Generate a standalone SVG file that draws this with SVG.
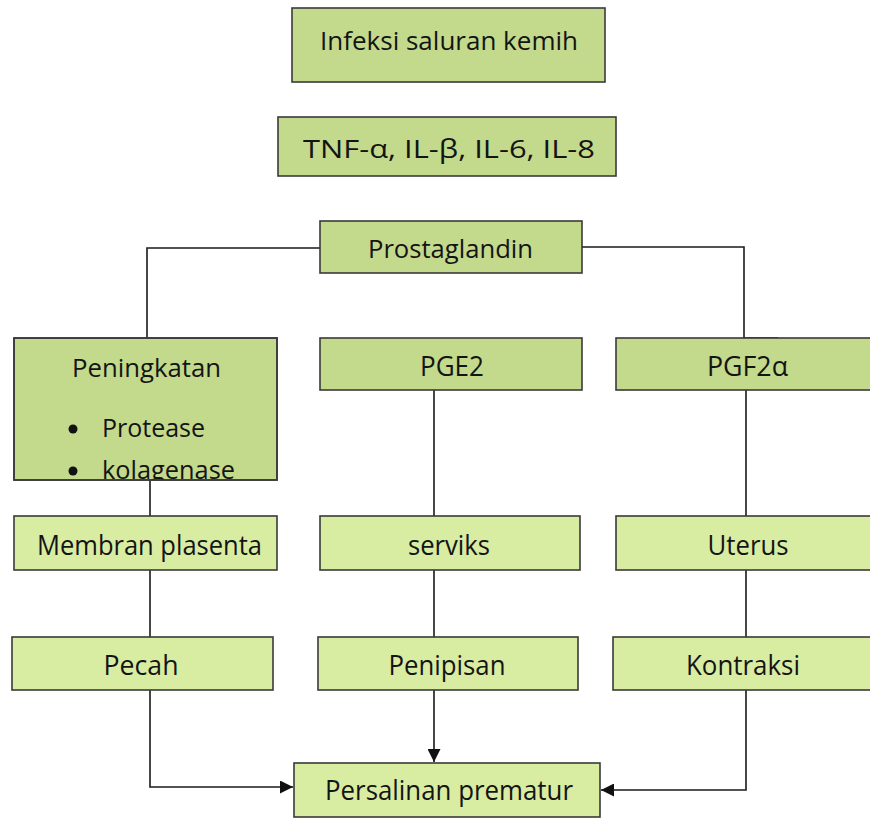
<svg xmlns="http://www.w3.org/2000/svg" width="870" height="818" viewBox="0 0 870 818">
<defs>
<style>
.d{fill:#c3d98c;stroke:#3a3a3a;stroke-width:1.6}
.l{fill:#d8eca2;stroke:#3a3a3a;stroke-width:1.6}
text{font-family:"Open Sans","Liberation Sans",sans-serif;font-size:27px;fill:#141414;text-anchor:middle;dominant-baseline:central}
.s{font-size:25px}
.st{text-anchor:start}
.c{fill:none;stroke:#1a1a1a;stroke-width:1.6}
</style>
<marker id="ah" viewBox="0 0 10 10" refX="10" refY="5" markerWidth="14" markerHeight="13" markerUnits="userSpaceOnUse" orient="auto">
<path d="M0,0 L10,5 L0,10 z" fill="#111"/>
</marker>
<clipPath id="pc"><rect x="14" y="338" width="263" height="142"/></clipPath>
</defs>
<g id="connectors">
<polyline class="c" points="320,248 147,248 147,338"/>
<polyline class="c" points="582,247 744,247 744,338"/>
<line class="c" x1="744" y1="338" x2="778" y2="338"/>
<line class="c" x1="150" y1="480" x2="150" y2="516"/>
<line class="c" x1="150" y1="570" x2="150" y2="637"/>
<polyline class="c" points="150,690 150,787 293,787" marker-end="url(#ah)"/>
<line class="c" x1="434" y1="390" x2="434" y2="516"/>
<line class="c" x1="434" y1="570" x2="434" y2="637"/>
<line class="c" x1="434" y1="690" x2="434" y2="762" marker-end="url(#ah)"/>
<line class="c" x1="746" y1="390" x2="746" y2="516"/>
<line class="c" x1="746" y1="570" x2="746" y2="637"/>
<polyline class="c" points="746,690 746,790 601,790" marker-end="url(#ah)"/>
</g>
<g id="n-infeksi"><rect class="d" x="292" y="8" width="313" height="74"/><text class="s" x="449" y="40" textLength="258" lengthAdjust="spacingAndGlyphs">Infeksi saluran kemih</text></g>
<g id="n-tnf"><rect class="d" x="278" y="117" width="338" height="59"/><text class="s" x="449" y="148" textLength="292" lengthAdjust="spacingAndGlyphs">TNF-α, IL-β, IL-6, IL-8</text></g>
<g id="n-prostaglandin"><rect class="d" x="320" y="221" width="262" height="52"/><text class="s" x="450.5" y="248" textLength="165" lengthAdjust="spacingAndGlyphs">Prostaglandin</text></g>
<g id="n-peningkatan"><rect class="d" x="14" y="338" width="263" height="142"/>
<g clip-path="url(#pc)">
<text class="s" x="146.5" y="367" textLength="149" lengthAdjust="spacingAndGlyphs">Peningkatan</text>
<circle cx="73" cy="429" r="4.5" fill="#111"/>
<text class="s st" x="102" y="427" textLength="103" lengthAdjust="spacingAndGlyphs">Protease</text>
<circle cx="73" cy="471" r="4.5" fill="#111"/>
<text class="s st" x="102" y="469" textLength="133" lengthAdjust="spacingAndGlyphs">kolagenase</text>
</g>
<rect x="14" y="338" width="263" height="142" fill="none" stroke="#3a3a3a" stroke-width="1.6"/>
</g>
<g id="n-pge2"><rect class="d" x="320" y="338" width="262" height="52"/><text x="452" y="365" textLength="64" lengthAdjust="spacingAndGlyphs">PGE2</text></g>
<g id="n-pgf2a"><rect class="d" x="616" y="338" width="262" height="52"/><text x="747.5" y="365" textLength="81" lengthAdjust="spacingAndGlyphs">PGF2α</text></g>
<g id="n-membran"><rect class="l" x="14" y="516" width="263" height="54"/><text x="149.5" y="544" textLength="225" lengthAdjust="spacingAndGlyphs">Membran plasenta</text></g>
<g id="n-serviks"><rect class="l" x="320" y="516" width="260" height="54"/><text x="449" y="544" textLength="82" lengthAdjust="spacingAndGlyphs">serviks</text></g>
<g id="n-uterus"><rect class="l" x="616" y="516" width="262" height="54"/><text x="748" y="544" textLength="81" lengthAdjust="spacingAndGlyphs">Uterus</text></g>
<g id="n-pecah"><rect class="l" x="12" y="637" width="261" height="53"/><text x="141" y="664" textLength="75" lengthAdjust="spacingAndGlyphs">Pecah</text></g>
<g id="n-penipisan"><rect class="l" x="318" y="637" width="260" height="53"/><text x="447" y="664" textLength="117" lengthAdjust="spacingAndGlyphs">Penipisan</text></g>
<g id="n-kontraksi"><rect class="l" x="613" y="637" width="265" height="53"/><text x="743" y="664" textLength="114" lengthAdjust="spacingAndGlyphs">Kontraksi</text></g>
<g id="n-persalinan"><rect class="l" x="294" y="763" width="306" height="54"/><text x="449" y="789" textLength="248" lengthAdjust="spacingAndGlyphs">Persalinan prematur</text></g>
</svg>
